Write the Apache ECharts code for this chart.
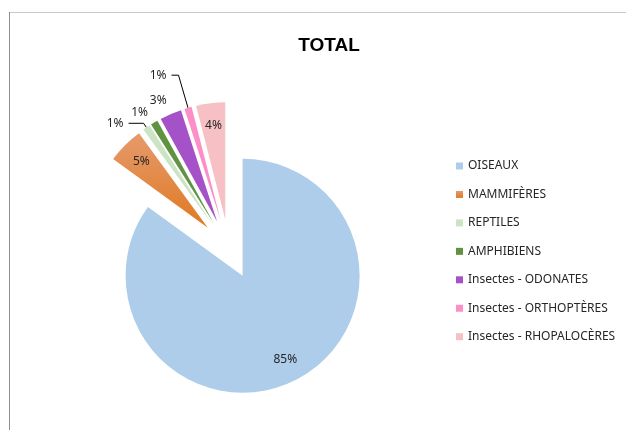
<!DOCTYPE html>
<html>
<head>
<meta charset="utf-8">
<script src="https://cdn.jsdelivr.net/npm/echarts@6/dist/echarts.min.js"></script>
<style>
  html, body { margin: 0; padding: 0; background: #ffffff; }
  #chart { width: 626px; height: 430px; }
</style>
</head>
<body>
<div id="chart"></div>
<script>
// Share of observed species by group (percent)
const categories = [
  'OISEAUX',
  'MAMMIFÈRES',
  'REPTILES',
  'AMPHIBIENS',
  'Insectes - ODONATES',
  'Insectes - ORTHOPTÈRES',
  'Insectes - RHOPALOCÈRES'
];
const shares = [85, 5, 1, 1, 3, 1, 4];

const colors = [
  '#ADCDEA',
  { type: 'linear', x: 0, y: 0, x2: 0, y2: 1,
    colorStops: [{ offset: 0, color: '#E69A6C' }, { offset: 1, color: '#DF7A22' }] },
  '#CCE4C3',
  '#5F9342',
  '#A552C8',
  '#FD8FC8',
  '#F6C0C4'
];

// Which slices carry their percentage inside the slice
const insideLabel = [true, true, false, false, false, false, true];
// Leader geometry for the small slices labelled outside
const outsideLine = {
  2: { show: true, length: 5, length2: 15 },
  3: { show: false, length: 12, length2: 0 },
  4: { show: false, length: 15, length2: 0 },
  5: { show: true, length: 34, length2: 7 }
};
const outsideGap = { 2: 5, 3: 0, 4: -2, 5: 5 };

const textColor = '#262626';
const font = 'Noto Sans';
const pieCenter = [229, 249];
const explode = 30;

const sliceData = categories.map((name, i) => ({
  name: name,
  value: shares[i],
  selected: true,
  itemStyle: { color: colors[i] },
  label: insideLabel[i] ? { show: false } : { show: true, distanceToLabelLine: outsideGap[i] },
  labelLine: outsideLine[i] || { show: false }
}));

const labelData = categories.map((name, i) => ({
  name: name,
  value: shares[i],
  selected: true,
  label: { show: insideLabel[i] }
}));

const chart = echarts.init(document.getElementById('chart'), null, { renderer: 'canvas' });
chart.setOption({
  animation: false,
  backgroundColor: '#ffffff',
  title: {
    text: 'TOTAL',
    left: 324,
    top: 31,
    textAlign: 'center',
    textStyle: { fontFamily: 'Liberation Sans', fontWeight: 'bold', fontSize: 19, color: '#000000' }
  },
  legend: {
    orient: 'vertical',
    left: 451,
    top: 155,
    icon: 'rect',
    itemWidth: 7,
    itemHeight: 7,
    itemGap: 16.45,
    selectedMode: false,
    data: categories,
    textStyle: { fontFamily: font, fontSize: 12, color: textColor }
  },
  graphic: [
    { type: 'line', silent: true, shape: { x1: 9, y1: 12.5, x2: 626, y2: 12.5 },
      style: { stroke: '#C8C8C8', lineWidth: 1 } },
    { type: 'line', silent: true, shape: { x1: 9.5, y1: 12, x2: 9.5, y2: 430 },
      style: { stroke: '#8E8E8E', lineWidth: 1 } }
  ],
  series: [
    {
      type: 'pie',
      center: pieCenter,
      radius: 117,
      startAngle: 90,
      clockwise: true,
      selectedMode: 'multiple',
      selectedOffset: explode,
      avoidLabelOverlap: false,
      labelLayout: { hideOverlap: false },
      emphasis: { disabled: true },
      select: { itemStyle: { borderWidth: 0 } },
      label: {
        position: 'outside',
        formatter: '{c}%',
        fontFamily: font,
        fontSize: 12,
        color: textColor,
        distanceToLabelLine: 5
      },
      labelLine: { lineStyle: { color: '#000000', width: 1 }, smooth: false },
      data: sliceData
    },
    {
      // transparent twin used to place the in-slice percentages further out
      type: 'pie',
      center: pieCenter,
      radius: 182,
      startAngle: 90,
      clockwise: true,
      silent: true,
      selectedMode: 'multiple',
      selectedOffset: explode,
      avoidLabelOverlap: false,
      labelLayout: { hideOverlap: false },
      emphasis: { disabled: true },
      itemStyle: { color: 'rgba(0,0,0,0)' },
      select: { itemStyle: { color: 'rgba(0,0,0,0)', borderWidth: 0 } },
      label: {
        position: 'inside',
        formatter: '{c}%',
        fontFamily: font,
        fontSize: 12,
        color: textColor
      },
      labelLine: { show: false },
      data: labelData
    }
  ]
});
</script>
</body>
</html>
